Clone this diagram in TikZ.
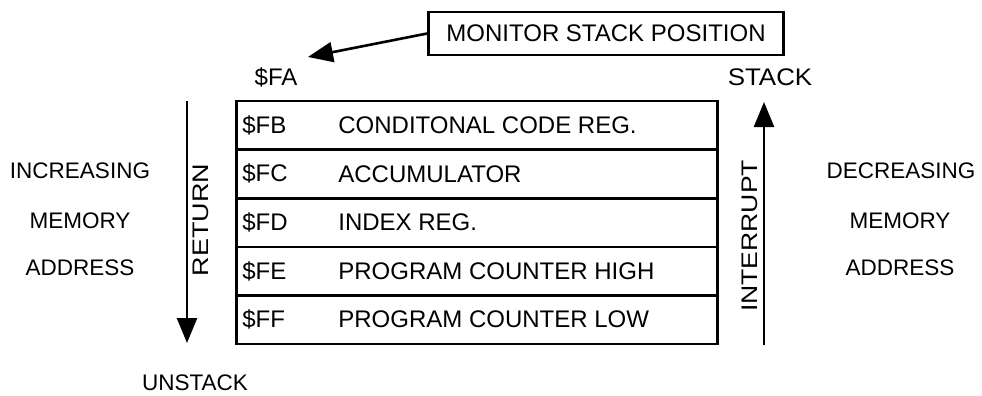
\documentclass[tikz,border=0pt]{standalone}
\usepackage{fontspec}
\setmainfont{Liberation Sans}
\usetikzlibrary{arrows.meta}
\begin{document}
\begin{tikzpicture}[x=1pt,y=-1pt,
  lbl/.style={font=\fontsize{22.5}{26}\selectfont, inner sep=0pt},
  tbl/.style={font=\fontsize{24}{28}\selectfont, inner sep=0pt},
  rowbox/.style={draw, line width=2.6pt, minimum width=481pt, minimum height=48.6pt, inner sep=0pt},
  monbox/.style={draw, line width=2.6pt, minimum width=355pt, minimum height=43pt, inner sep=0pt, font=\fontsize{24}{28}\selectfont},
  bigarrow/.style={line width=2.6pt, -{Triangle[length=25pt,width=20pt]}}
]
\useasboundingbox (0,0) rectangle (982,396);

% monitor box and arrow
\node[monbox] (mon) at (606,33.5) {MONITOR STACK POSITION};
\coordinate (montip) at (308,57);
\draw[bigarrow] (mon.west) -- (montip);

\node[tbl] (fa) at (276,77) {\$FA};
\node[tbl] (stk) at (770,77) {\scalebox{1.08}[1]{STACK}};

% stack table
\foreach \i/\addr/\txt in {1/FB/CONDITONAL CODE REG.,2/FC/ACCUMULATOR,3/FD/INDEX REG.,4/FE/PROGRAM COUNTER HIGH,5/FF/PROGRAM COUNTER LOW}{
  \node[rowbox] (r\i) at (477, {101+48.6*(\i-0.5)}) {};
  \node[tbl, anchor=west] (a\i) at ([xshift=7pt]r\i.west) {\$\addr};
  \node[tbl, anchor=west] (t\i) at ([xshift=103pt]r\i.west) {\txt};
}

% return arrow
\coordinate (rettop) at (187,101);
\coordinate (retbot) at (187,343);
\draw[bigarrow] (rettop) -- (retbot);
\node[lbl, rotate=90] (ret) at (201,220) {\scalebox{1.2}[1]{RETURN}};

% interrupt arrow
\coordinate (intbot) at (764,345);
\coordinate (inttop) at (764,102);
\draw[bigarrow] (intbot) -- (inttop);
\node[lbl, rotate=90] (int) at (750,236) {\scalebox{1.18}[1]{INTERRUPT}};

% side labels
\node[lbl] (inc) at (80,171) {INCREASING};
\node[lbl] (mem1) at (80,221) {MEMORY};
\node[lbl] (adr1) at (80,268) {ADDRESS};
\node[lbl] (dec) at (901,171) {DECREASING};
\node[lbl] (mem2) at (900,221) {MEMORY};
\node[lbl] (adr2) at (900,268) {ADDRESS};
\node[lbl] (unstk) at (195,383) {UNSTACK};
\end{tikzpicture}
\end{document}
